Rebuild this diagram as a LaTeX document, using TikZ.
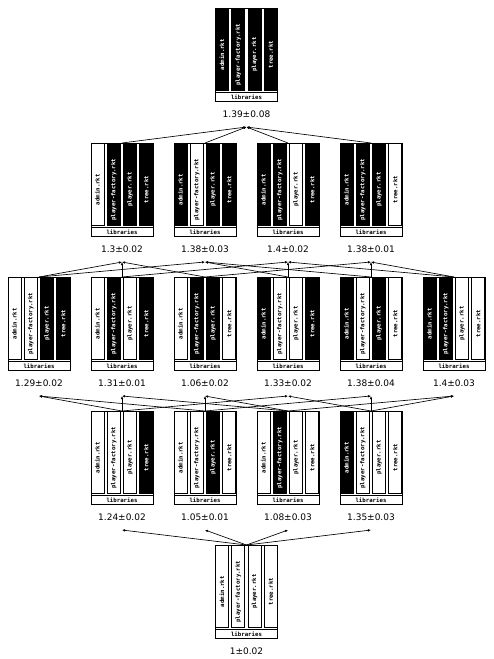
\documentclass[tikz,border=0pt]{standalone}
\usepackage{fontspec}
\setmainfont{DejaVu Sans}
\newfontfamily\modfont{DejaVu Sans Mono}
\usetikzlibrary{arrows.meta}
\tikzstyle{frame}=[draw, line width=1pt, minimum width=62pt, minimum height=93pt, inner sep=0pt, anchor=north]
\tikzstyle{bar}=[draw, line width=0.7pt, minimum width=13pt, minimum height=81.5pt, inner sep=0pt, anchor=north west, font=\modfont\bfseries\fontsize{5.7}{6}\selectfont]
\tikzstyle{typed}=[bar, fill=black, text=white]
\tikzstyle{untyped}=[bar, fill=white, text=black]
\tikzstyle{libs}=[draw, line width=0.7pt, fill=white, minimum width=62pt, minimum height=9pt, inner sep=0pt, anchor=south, font=\modfont\bfseries\fontsize{5.7}{6}\selectfont]
\tikzstyle{time}=[inner sep=0pt, font=\fontsize{9}{10}\selectfont]
\newcommand{\modname}[1]{\ifcase#1\or admin.rkt\or player-factory.rkt\or player.rkt\or tree.rkt\fi}
% one configuration: name, top centre, bar styles, timing
\newcommand{\config}[4]{%
	\node[frame] (#1) at #2 {};
	\foreach \s [count=\i] in {#3}
		\node[\s] (#1-\i) at ([xshift={(\i-1)*16.33pt}]#1.north west) {\rotatebox{90}{\modname{\i}\hspace*{11pt}}};
	\node[libs] (#1-lib) at (#1.south) {libraries};
	\node[time] (#1-t) at ([yshift=-12pt]#1.south) {#4};
	\coordinate (#1-in) at ([yshift=-25pt]#1.south);
}

\begin{document}
\begin{tikzpicture}[x=1pt, y=-1pt,
	every edge/.style={draw, line width=0.65pt, -{Latex[length=3pt, width=2.6pt]}}
	]
	\useasboundingbox (0,0) rectangle (493,659);
	% fully typed
	\config{c1111}{(246.5,8)}{typed,typed,typed,typed}{1.39±0.08}
	% three typed
	\config{c0111}{(122,143)}{untyped,typed,typed,typed}{1.3±0.02}
	\config{c1011}{(205,143)}{typed,untyped,typed,typed}{1.38±0.03}
	\config{c1101}{(288,143)}{typed,typed,untyped,typed}{1.4±0.02}
	\config{c1110}{(371,143)}{typed,typed,typed,untyped}{1.38±0.01}
	% two typed
	\config{c0011}{(39,277)}{untyped,untyped,typed,typed}{1.29±0.02}
	\config{c0101}{(122,277)}{untyped,typed,untyped,typed}{1.31±0.01}
	\config{c0110}{(205,277)}{untyped,typed,typed,untyped}{1.06±0.02}
	\config{c1001}{(288,277)}{typed,untyped,untyped,typed}{1.33±0.02}
	\config{c1010}{(371,277)}{typed,untyped,typed,untyped}{1.38±0.04}
	\config{c1100}{(454,277)}{typed,typed,untyped,untyped}{1.4±0.03}
	% one typed
	\config{c0001}{(122,411)}{untyped,untyped,untyped,typed}{1.24±0.02}
	\config{c0010}{(205,411)}{untyped,untyped,typed,untyped}{1.05±0.01}
	\config{c0100}{(288,411)}{untyped,typed,untyped,untyped}{1.08±0.03}
	\config{c1000}{(371,411)}{typed,untyped,untyped,untyped}{1.35±0.03}
	% untyped
	\config{c0000}{(246.5,545)}{untyped,untyped,untyped,untyped}{1±0.02}
	\path
	(c0111.north) edge (c1111-in)
	(c1011.north) edge (c1111-in)
	(c1101.north) edge (c1111-in)
	(c1110.north) edge (c1111-in)
	(c0011.north) edge (c0111-in)
	(c0101.north) edge (c0111-in)
	(c0110.north) edge (c0111-in)
	(c0011.north) edge (c1011-in)
	(c1001.north) edge (c1011-in)
	(c1010.north) edge (c1011-in)
	(c0101.north) edge (c1101-in)
	(c1001.north) edge (c1101-in)
	(c1100.north) edge (c1101-in)
	(c0110.north) edge (c1110-in)
	(c1010.north) edge (c1110-in)
	(c1100.north) edge (c1110-in)
	(c0001.north) edge (c0011-in)
	(c0010.north) edge (c0011-in)
	(c0001.north) edge (c0101-in)
	(c0100.north) edge (c0101-in)
	(c0010.north) edge (c0110-in)
	(c0100.north) edge (c0110-in)
	(c0001.north) edge (c1001-in)
	(c1000.north) edge (c1001-in)
	(c0010.north) edge (c1010-in)
	(c1000.north) edge (c1010-in)
	(c0100.north) edge (c1100-in)
	(c1000.north) edge (c1100-in)
	(c0000.north) edge (c0001-in)
	(c0000.north) edge (c0010-in)
	(c0000.north) edge (c0100-in)
	(c0000.north) edge (c1000-in)
	;
\end{tikzpicture}
\end{document}
